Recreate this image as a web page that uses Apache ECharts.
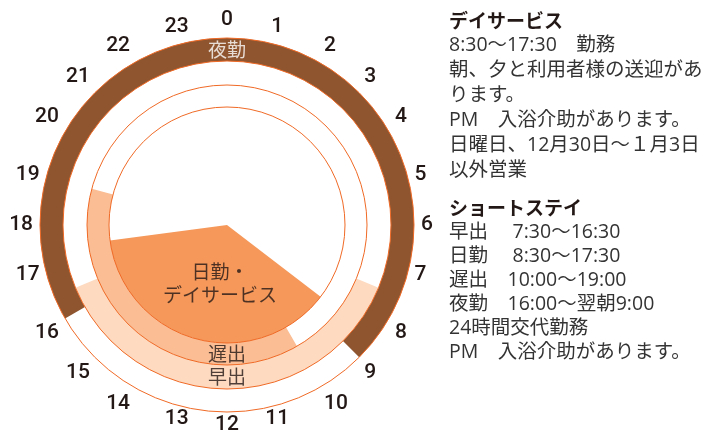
<!DOCTYPE html>
<html><head><meta charset="utf-8">
<script src="https://cdn.jsdelivr.net/npm/echarts@6/dist/echarts.min.js"></script>
<style>html,body{margin:0;padding:0;background:#fff}#c{width:709px;height:433px}</style>
</head><body><div id="c"></div>
<script>
// ---- data ----
const hourLabels = ['0','1','2','3','4','5','6','7','8','9','10','11','12','13','14','15','16','17','18','19','20','21','22','23'];
const shiftNames = ['夜勤', '早出', '遅出', '日勤・\nデイサービス'];
const shiftStart = [16, 7.5, 10, 8.5];
const shiftEnd   = [9, 16.5, 19, 17.5];
const dayServiceLines = ['8:30〜17:30　勤務', '朝、夕と利用者様の送迎があ', 'ります。', 'PM　入浴介助があります。', '日曜日、12月30日〜１月3日', '以外営業'];
const shortStayLines = ['早出　 7:30〜16:30', '日勤　 8:30〜17:30', '遅出　10:00〜19:00', '夜勤　16:00〜翌朝9:00', '24時間交代勤務', 'PM　入浴介助があります。'];

// ---- layout / style ----
const CENTER = [227, 225];
const R_OUT = 187;
const ringRadius = [[164, 187], [140, 164], [118, 140], [0, 118]];
const ringColor = ['#8E552F', '#FDDAC0', '#FABD94', '#F5985A'];
const labelColor = ['#ffffff', '#231815', '#231815', '#231815'];
const labelAngle = [0, 12, 12, 12.45];
const outlineR = [187, 164, 140, 118];
const STROKE = '#F06A26';
const FONT = "'Noto Sans CJK JP', 'Noto Sans', sans-serif";
const TXT_FONT = "'Open Sans', 'Noto Sans CJK JP', sans-serif";
const NUM_FONT = "Roboto, 'Noto Sans', sans-serif";

const series = [];
shiftNames.forEach((name, i) => {
  let dur = shiftEnd[i] - shiftStart[i];
  if (dur < 0) dur += 24;
  series.push({
    type: 'pie', name: name, center: CENTER, radius: ringRadius[i],
    startAngle: 90 - shiftStart[i] * 15, clockwise: true, silent: true,
    label: { show: false }, labelLine: { show: false }, z: 2,
    itemStyle: { borderWidth: 0 },
    data: [
      { value: dur, name: name, itemStyle: { color: ringColor[i] } },
      { value: 24 - dur, name: '', itemStyle: { color: 'rgba(0,0,0,0)' } }
    ]
  });
});
outlineR.forEach(r => {
  series.push({
    type: 'pie', center: CENTER, radius: [0, r], silent: true, z: 3,
    label: { show: false }, labelLine: { show: false },
    itemStyle: { color: 'rgba(0,0,0,0)', borderColor: STROKE, borderWidth: 1 },
    data: [{ value: 1, name: '' }]
  });
});
series.push({
  type: 'scatter', coordinateSystem: 'polar', symbolSize: 0, silent: true, z: 5,
  data: shiftNames.map((n, i) => ({
    value: [(ringRadius[i][0] + ringRadius[i][1]) / 2, labelAngle[i]],
    label: { show: true, position: 'inside', formatter: n, color: labelColor[i],
      fontSize: 19, fontFamily: FONT, lineHeight: 23, align: 'center', verticalAlign: 'middle' }
  }))
});

const numStyle = { fontSize: 21, fontWeight: 500, color: '#231815', fontFamily: NUM_FONT };
const chart = echarts.init(document.getElementById('c'));
chart.setOption({
  animation: false,
  backgroundColor: '#fff',
  polar: { center: CENTER, radius: R_OUT },
  angleAxis: {
    type: 'value', min: 0, max: 24, interval: 1, startAngle: 90, clockwise: true,
    axisLine: { show: false }, axisTick: { show: false }, splitLine: { show: false },
    axisLabel: { margin: 7, fontSize: 21, fontWeight: 500, color: '#231815', fontFamily: NUM_FONT,
      formatter: v => {
        const s = hourLabels[v];
        if (s === undefined) return '';
        return (v >= 11 && v <= 13) ? '{b|' + s + '}' : '{n|' + s + '}';
      },
      rich: { n: Object.assign({ lineHeight: 22 }, numStyle), b: Object.assign({ lineHeight: 12 }, numStyle) }
    }
  },
  radiusAxis: { type: 'value', min: 0, max: R_OUT, show: false,
    axisLine: { show: false }, axisLabel: { show: false }, axisTick: { show: false }, splitLine: { show: false } },
  series: series,
  graphic: [
    { type: 'text', left: 449, top: 8, silent: true,
      style: { text: '{t|デイサービス}\n' + dayServiceLines.join('\n'), font: '19.5px ' + TXT_FONT, lineHeight: 25, fill: '#333',
        rich: { t: { fontSize: 19, fontWeight: 'bold', fill: '#231815', lineHeight: 25, fontFamily: FONT } } } },
    { type: 'text', left: 449, top: 196, silent: true,
      style: { text: '{t|ショートステイ}\n' + shortStayLines.join('\n'), font: '19.5px ' + TXT_FONT, lineHeight: 24, fill: '#333',
        rich: { t: { fontSize: 19, fontWeight: 'bold', fill: '#231815', lineHeight: 24, fontFamily: FONT } } } }
  ]
});
</script></body></html>
